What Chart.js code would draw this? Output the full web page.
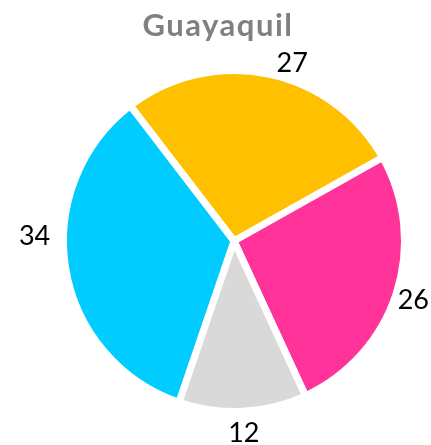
<!DOCTYPE html>
<html>
<head>
<meta charset="utf-8">
<script src="https://cdn.jsdelivr.net/npm/chart.js@4"></script>
<style>
  html, body { margin: 0; padding: 0; background: #fff; }
  #wrap { width: 431px; height: 445px; }
</style>
</head>
<body>
<div id="wrap"><canvas id="pieChart"></canvas></div>
<script>
// data
const chartTitle = 'Guayaquil';
const categories = ['A', 'B', 'C', 'D'];
const values = [27, 26, 12, 34];
const sliceColors = ['#FFC000', '#FF3399', '#D9D9D9', '#00CCFF'];

// label placement tweaks (degrees / px), like Excel's "best fit"
const labelAngleNudge = [6.5, 0, 0, 11];
const labelGap = [17, 18, 21, 29];

const FONT = "Lato, 'Open Sans', sans-serif";

// title + outside labels drawn on the canvas
const pieLabels = {
    id: 'pieLabels',
    afterDatasetsDraw(chart) {
        const ctx = chart.ctx;
        const meta = chart.getDatasetMeta(0);
        ctx.save();

        // title
        ctx.font = "bold 31px " + FONT;
        ctx.letterSpacing = '1.5px';
        ctx.fillStyle = '#808080';
        ctx.textAlign = 'center';
        ctx.textBaseline = 'alphabetic';
        ctx.fillText(chartTitle, 218, 36);
        ctx.letterSpacing = '0px';

        // value labels outside each slice
        const size = 27;
        ctx.font = size + "px " + FONT;
        ctx.fillStyle = '#000';
        meta.data.forEach((arc, i) => {
            const p = arc.getProps(['x', 'y', 'startAngle', 'endAngle', 'outerRadius'], true);
            const mid = (p.startAngle + p.endAngle) / 2 + labelAngleNudge[i] * Math.PI / 180;
            const r = p.outerRadius + labelGap[i];
            const cx = p.x + Math.cos(mid) * r;
            const cy = p.y + Math.sin(mid) * r;
            ctx.fillText(String(values[i]), cx, cy + size * 0.36);
        });
        ctx.restore();
    }
};

new Chart(document.getElementById('pieChart'), {
    type: 'pie',
    data: {
        labels: categories,
        datasets: [{
            data: values,
            backgroundColor: sliceColors,
            borderColor: '#ffffff',
            borderWidth: 7,
            hoverOffset: 0
        }]
    },
    options: {
        responsive: true,
        maintainAspectRatio: false,
        animation: false,
        rotation: -37.5,
        layout: {
            padding: { left: 60, right: 23, top: 67, bottom: 30 }
        },
        plugins: {
            legend: { display: false },
            title: { display: false },
            tooltip: { enabled: false }
        }
    },
    plugins: [pieLabels]
});
</script>
</body>
</html>
